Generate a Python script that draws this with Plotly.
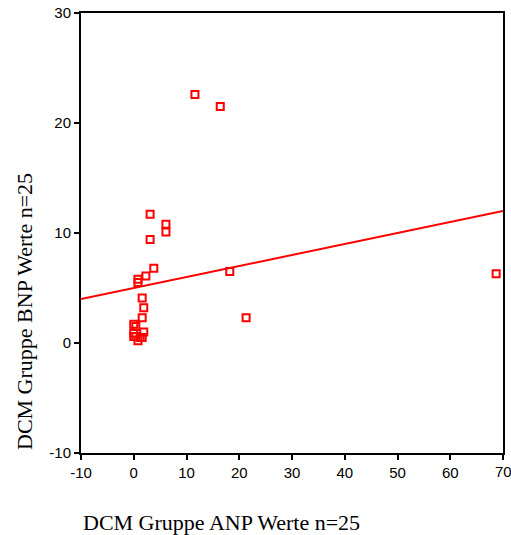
import numpy as np
import plotly.graph_objects as go

anp = [11.6, 16.4, 3.1, 6.1, 6.1, 3.1, 3.8, 2.3, 0.8, 0.8, 18.2, 21.3, 68.7,
       1.6, 1.9, 1.6, 1.9, 0.0, 0.4, 0.0, 0.0, 0.4, 1.2, 1.6, 0.8]
bnp = [22.6, 21.5, 11.7, 10.8, 10.1, 9.4, 6.8, 6.1, 5.8, 5.5, 6.5, 2.3, 6.3,
       4.1, 3.2, 2.3, 1.0, 1.7, 1.5, 0.9, 0.6, 0.6, 0.5, 0.5, 0.2]
fit_intercept = 5.0
fit_slope = 0.1
x_range = [-10, 70]
y_range = [-10, 30]
x_ticks = [-10, 0, 10, 20, 30, 40, 50, 60, 70]
x_tick_labels = ["-10", "0", "10", "20", "30", "40", "50", "60", "70"]
y_ticks = [-10, 0, 10, 20, 30]
y_tick_labels = ["-10", "0", "10", "20", "30"]

fx = np.array(x_range, dtype=float)
fy = fit_intercept + fit_slope * fx

fig = go.Figure()
fig.add_trace(go.Scatter(x=fx, y=fy, mode="lines",
                         line=dict(color="#ff0000", width=2), hoverinfo="skip"))
fig.add_trace(go.Scatter(x=anp, y=bnp, mode="markers",
                         marker=dict(symbol="square-open", size=7, color="#ff0000",
                                     line=dict(width=2, color="#ff0000"))))

tick_font = dict(family="Liberation Sans, Arial", size=15, color="black")
axis_common = dict(showgrid=False, zeroline=False, showline=True, linecolor="black",
                   linewidth=2, mirror=True, ticks="outside", ticklen=5, tickwidth=2,
                   tickcolor="black", automargin=False, tickfont=tick_font)
# last x label drawn as annotation so it may overflow the right edge like the original
fig.update_xaxes(range=x_range, tickvals=x_ticks,
                 ticktext=x_tick_labels[:-1] + [""], **axis_common)
fig.update_yaxes(range=y_range, tickvals=y_ticks, ticktext=y_tick_labels, **axis_common)

annotations = [
    dict(text=x_tick_labels[-1], xref="x", yref="paper", x=x_ticks[-1], y=0,
         yshift=-8, xanchor="center", yanchor="top", showarrow=False, font=tick_font),
    dict(text="DCM Gruppe ANP Werte n=25", xref="paper", yref="paper",
         x=(221 - 81) / 422, y=-(522 - 453) / 440, xanchor="center", yanchor="middle",
         showarrow=False, font=dict(family="Liberation Serif, Times New Roman", size=22, color="black")),
    dict(text="DCM Gruppe BNP Werte n=25", xref="paper", yref="paper",
         x=(24 - 81) / 422, y=(453 - 312) / 440, xanchor="center", yanchor="middle",
         textangle=-90, showarrow=False,
         font=dict(family="Liberation Serif, Times New Roman", size=22, color="black")),
]

fig.update_layout(
    width=511, height=535, showlegend=False,
    margin=dict(l=81, r=8, t=13, b=82),
    plot_bgcolor="white", paper_bgcolor="white",
    annotations=annotations,
)
fig.write_html("out.html")
